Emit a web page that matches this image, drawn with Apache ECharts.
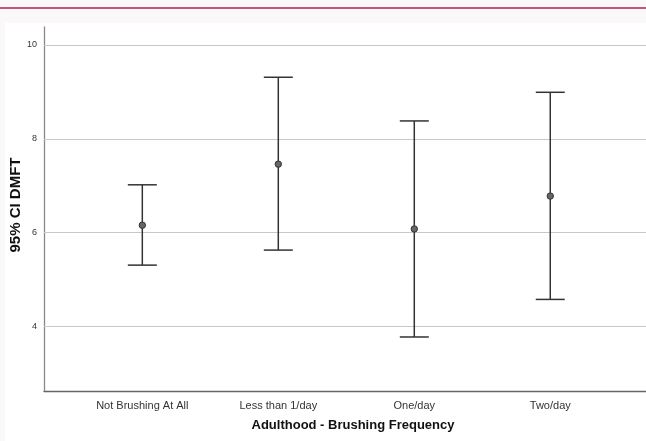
<!DOCTYPE html>
<html><head><meta charset="utf-8">
<script src="https://cdn.jsdelivr.net/npm/echarts@6/dist/echarts.min.js"></script>
<style>html,body{margin:0;padding:0;background:#fbf8f9;}#c{width:646px;height:441px;}</style>
</head><body><div id="c"></div>
<script>
const categories = ['Not Brushing At All', 'Less than 1/day', 'One/day', 'Two/day'];
const means = [6.16, 7.46, 6.08, 6.78];
const lowers = [5.31, 5.63, 3.78, 4.58];
const uppers = [7.02, 9.31, 8.38, 8.99];
const yTicks = [4, 6, 8, 10];
const xPositions = [1, 2, 3, 4];
const xTitle = 'Adulthood - Brushing Frequency';
const yTitle = '95% CI DMFT';

const chart = echarts.init(document.getElementById('c'));
const data = xPositions.map((x, i) => [x, lowers[i], uppers[i], means[i]]);
chart.setOption({
  animation: false,
  backgroundColor: '#fbf8f9',
  graphic: [
    {type: 'rect', shape: {x: 0, y: 7, width: 646, height: 2}, style: {fill: '#c4587c'}, z: 0},
    {type: 'rect', shape: {x: 5, y: 23, width: 641, height: 418}, style: {fill: '#ffffff'}, z: -1},
    {type: 'text', x: 353, y: 425, style: {text: xTitle, font: 'bold 13px "Liberation Sans", Arial, sans-serif', fill: '#111', align: 'center', verticalAlign: 'middle'}},
    {type: 'text', x: 16, y: 205, rotation: Math.PI / 2, style: {text: yTitle, font: 'bold 15px "Liberation Sans", Arial, sans-serif', fill: '#111', align: 'center', verticalAlign: 'middle'}}
  ],
  grid: {left: 44, right: 0, top: 27, bottom: 50, containLabel: false, outerBoundsMode: 'none'},
  xAxis: {
    type: 'value', min: 0.277, max: 4.704,
    axisLine: {show: true, lineStyle: {color: '#666', width: 1.3}},
    axisTick: {show: false},
    splitLine: {show: false},
    axisLabel: {
      customValues: xPositions,
      formatter: v => categories[Math.round(v) - 1] || '',
      color: '#333', fontSize: 11, fontFamily: '"Liberation Sans", Arial, sans-serif', margin: 9
    }
  },
  yAxis: {
    type: 'value', min: 2.63, max: 10.38,
    axisLine: {show: true, lineStyle: {color: '#888', width: 1.3}},
    axisTick: {show: false},
    splitLine: {show: false},
    axisLabel: {customValues: yTicks, color: '#333', fontSize: 9, margin: 7, fontFamily: '"Liberation Sans", Arial, sans-serif'}
  },
  series: [{
    type: 'custom',
    data: data,
    encode: {x: 0, y: [1, 2, 3]},
    renderItem: function (params, api) {
      const x = api.value(0);
      const lo = api.coord([x, api.value(1)]);
      const hi = api.coord([x, api.value(2)]);
      const m = api.coord([x, api.value(3)]);
      const hw = 14.5;
      const st = {stroke: '#333', lineWidth: 1.5};
      return {type: 'group', children: [
        {type: 'line', shape: {x1: lo[0], y1: lo[1], x2: hi[0], y2: hi[1]}, style: st},
        {type: 'line', shape: {x1: lo[0] - hw, y1: lo[1], x2: lo[0] + hw, y2: lo[1]}, style: st},
        {type: 'line', shape: {x1: hi[0] - hw, y1: hi[1], x2: hi[0] + hw, y2: hi[1]}, style: st},
        {type: 'circle', shape: {cx: m[0], cy: m[1], r: 3.2}, style: {fill: '#666', stroke: '#333', lineWidth: 1}}
      ]};
    },
    z: 5,
    markLine: {
      silent: true, symbol: 'none', label: {show: false},
      lineStyle: {color: '#c8c8c8', width: 1, type: 'solid'},
      data: yTicks.map(v => ({yAxis: v})),
      z: 1
    }
  }]
});
</script></body></html>
